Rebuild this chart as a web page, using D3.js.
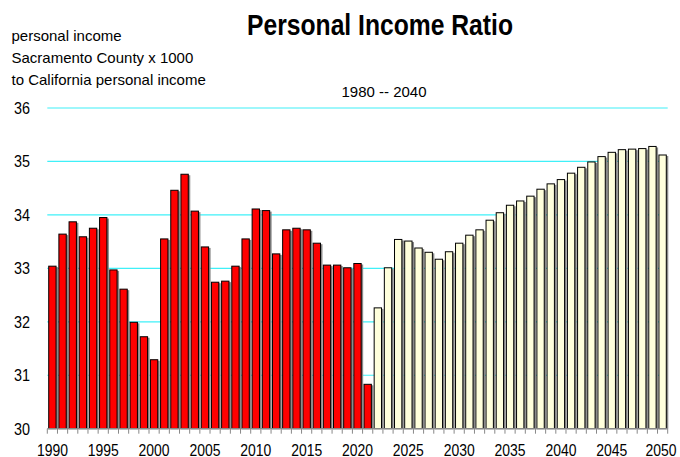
<!DOCTYPE html>
<html>
<head>
<meta charset="utf-8">
<script src="https://cdn.jsdelivr.net/npm/d3@7"></script>
<style>
  body { margin: 0; background: #fff; }
  svg { display: block; }
  text { font-family: "Liberation Sans", Arial, sans-serif; }
</style>
</head>
<body>
<svg id="chart" width="680" height="457"></svg>
<script>
const width = 680
const height = 457

// Sacramento County personal income x 1000 / California personal income
const actualYears = d3.range(1990, 2022)
const actualValues = [
    33.05, 33.65, 33.88, 33.60, 33.76, 33.96, 32.98, 32.62, 32.00, 31.73,
    31.30, 33.56, 34.47, 34.77, 34.08, 33.41, 32.75, 32.77, 33.05, 33.56,
    34.12, 34.09, 33.28, 33.73, 33.76, 33.73, 33.48, 33.07, 33.07, 33.02,
    33.10, 30.84
]
const forecastYears = d3.range(2022, 2051)
const forecastValues = [
    32.27, 33.02, 33.55, 33.52, 33.39, 33.31, 33.18, 33.32, 33.48, 33.63,
    33.73, 33.91, 34.05, 34.19, 34.27, 34.36, 34.49, 34.59, 34.67, 34.79,
    34.90, 35.00, 35.10, 35.18, 35.23, 35.24, 35.25, 35.29, 35.13
]
const yTicks = [30, 31, 32, 33, 34, 35, 36]
const xLabelYears = [1990, 1995, 2000, 2005, 2010, 2015, 2020, 2025, 2030, 2035, 2040, 2045, 2050]

const data = [
    ...actualYears.map((y, i) => ({ year: y, value: actualValues[i], kind: 'actual' })),
    ...forecastYears.map((y, i) => ({ year: y, value: forecastValues[i], kind: 'forecast' }))
]

const margin = { left: 47.3, right: 12.3, top: 108, bottom: 28.3 }

const svg = d3.select('#chart')

const x = d3.scaleBand()
    .domain(data.map(d => d.year))
    .range([margin.left, width - margin.right])
    .paddingInner(0.18)
    .paddingOuter(0.09)

const y = d3.scaleLinear()
    .domain([30, 36])
    .range([height - margin.bottom, margin.top])

// gridlines
svg.append('g')
    .selectAll('line')
    .data(yTicks.slice(1))
    .join('line')
    .attr('x1', margin.left)
    .attr('x2', width - margin.right)
    .attr('y1', d => y(d))
    .attr('y2', d => y(d))
    .attr('stroke', '#3ff0f8')
    .attr('stroke-width', 1.2)

// bars (with a little grey shadow like the old excel charts)
const bars = svg.append('g')
bars.selectAll('rect.shadow')
    .data(data)
    .join('rect')
    .attr('class', 'shadow')
    .attr('x', d => x(d.year) + 1.5)
    .attr('y', d => y(d.value) + 1.5)
    .attr('width', x.bandwidth())
    .attr('height', d => y(30) - y(d.value) - 1.5)
    .attr('fill', '#8a8a8a')
bars.selectAll('rect.bar')
    .data(data)
    .join('rect')
    .attr('class', 'bar')
    .attr('x', d => x(d.year) + 0.5)
    .attr('y', d => y(d.value) + 0.5)
    .attr('width', x.bandwidth() - 1)
    .attr('height', d => y(30) - y(d.value) - 0.5)
    .attr('fill', d => d.kind === 'actual' ? '#ff0000' : '#ffffdc')
    .attr('stroke', '#000')
    .attr('stroke-width', 1)

// x axis: ticks sit between the bars, labels under the bars
const step = x.step()
const boundaries = d3.range(data.length + 1).map(i => margin.left + i * step)
const xAxis = svg.append('g')
xAxis.append('line')
    .attr('x1', margin.left).attr('x2', width - margin.right)
    .attr('y1', y(30)).attr('y2', y(30))
    .attr('stroke', '#888').attr('stroke-width', 1.2)
xAxis.selectAll('line.tick')
    .data(boundaries)
    .join('line')
    .attr('class', 'tick')
    .attr('x1', d => d).attr('x2', d => d)
    .attr('y1', y(30)).attr('y2', y(30) + 5)
    .attr('stroke', '#888')
xAxis.selectAll('text')
    .data(xLabelYears)
    .join('text')
    .attr('x', d => Math.min(x(d) + x.bandwidth() / 2, 661))
    .attr('y', 455.5)
    .attr('text-anchor', 'middle')
    .attr('font-size', 16)
    .attr('textLength', 31)
    .attr('lengthAdjust', 'spacingAndGlyphs')
    .text(d => d)

// y labels
svg.append('g')
    .selectAll('text')
    .data(yTicks)
    .join('text')
    .attr('x', 30)
    .attr('y', d => y(d) + 6)
    .attr('text-anchor', 'end')
    .attr('font-size', 17)
    .attr('textLength', 16)
    .attr('lengthAdjust', 'spacingAndGlyphs')
    .text(d => d)

// titles
svg.append('text')
    .attr('x', 380)
    .attr('y', 35)
    .attr('text-anchor', 'middle')
    .attr('font-size', 30)
    .attr('font-weight', 'bold')
    .attr('textLength', 266)
    .attr('lengthAdjust', 'spacingAndGlyphs')
    .text('Personal Income Ratio')

svg.append('text')
    .attr('x', 384)
    .attr('y', 96.5)
    .attr('text-anchor', 'middle')
    .attr('font-size', 15)
    .text('1980 -- 2040')

const yLabelLines = ['personal income', 'Sacramento County x 1000', 'to California personal income']
svg.append('g')
    .selectAll('text')
    .data(yLabelLines)
    .join('text')
    .attr('x', 11.5)
    .attr('y', (d, i) => 40.7 + i * 22)
    .attr('font-size', 15)
    .text(d => d)
</script>
</body>
</html>
